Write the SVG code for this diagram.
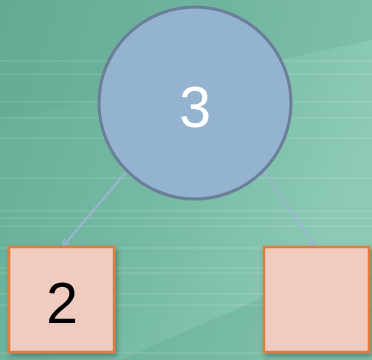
<svg xmlns="http://www.w3.org/2000/svg" width="372" height="360" viewBox="0 0 372 360">
<defs>
<linearGradient id="bg" x1="0" y1="0" x2="1" y2="0.3">
<stop offset="0" stop-color="#65ad96"/>
<stop offset="0.5" stop-color="#74b9a3"/>
<stop offset="1" stop-color="#8ccab5"/>
</linearGradient>
<filter id="sh" x="-20%" y="-20%" width="140%" height="140%">
<feDropShadow dx="2" dy="3" stdDeviation="2.5" flood-color="#2a4a40" flood-opacity="0.5"/>
</filter>
<marker id="ah" markerWidth="10" markerHeight="10" refX="8" refY="5" orient="auto" markerUnits="userSpaceOnUse">
<path d="M1,1 L8,5 L1,9" fill="none" stroke="#9ab5d3" stroke-width="1.5"/>
</marker>
<style>
.streak{stroke:#ffffff;stroke-opacity:0.12;stroke-width:1.5}
.box{fill:#f0cbbf;stroke:#e07b3c;stroke-width:2.5;filter:url(#sh)}
.edge{stroke:#9ab5d3;stroke-width:2;fill:none;marker-end:url(#ah)}
.lbl{font-family:"Liberation Sans",Arial,sans-serif;font-size:57px;text-anchor:middle}
</style>
</defs>
<rect width="372" height="360" fill="url(#bg)"/>
<path d="M0,120 L372,40 L372,0 L0,0 Z" fill="#5ea58e" opacity="0.25"/>
<path d="M120,360 L372,250 L372,360 Z" fill="#5ea58e" opacity="0.3"/>
<g class="streak">
<line x1="0" y1="61" x2="372" y2="61"/>
<line x1="0" y1="74" x2="372" y2="74"/>
<line x1="0" y1="102" x2="372" y2="102"/>
<line x1="0" y1="118" x2="372" y2="118"/>
<line x1="0" y1="138" x2="372" y2="138"/>
<line x1="0" y1="178" x2="372" y2="178"/>
<line x1="0" y1="211" x2="372" y2="211"/>
<line x1="0" y1="218" x2="372" y2="218"/>
<line x1="0" y1="226" x2="372" y2="226"/>
<line x1="0" y1="248" x2="372" y2="248"/>
<line x1="0" y1="268" x2="372" y2="268"/>
<line x1="0" y1="273" x2="372" y2="273"/>
<line x1="0" y1="294" x2="372" y2="294"/>
<line x1="0" y1="305" x2="372" y2="305"/>
<line x1="0" y1="353" x2="372" y2="353"/>
</g>
<g id="connectors">
<line class="edge" x1="127" y1="171" x2="63" y2="246"/>
<line class="edge" x1="263" y1="171" x2="315" y2="246"/>
</g>
<g id="node-3">
<circle cx="195" cy="103" r="96" fill="#93b3d0" stroke="#6b7f99" stroke-width="3"/>
<text class="lbl" x="195" y="127" fill="#ffffff">3</text>
</g>
<g id="node-2">
<rect class="box" x="9" y="247" width="105" height="105"/>
<text class="lbl" x="62" y="323" fill="#000000">2</text>
</g>
<g id="node-empty">
<rect class="box" x="264" y="247" width="105" height="105"/>
</g>
</svg>
